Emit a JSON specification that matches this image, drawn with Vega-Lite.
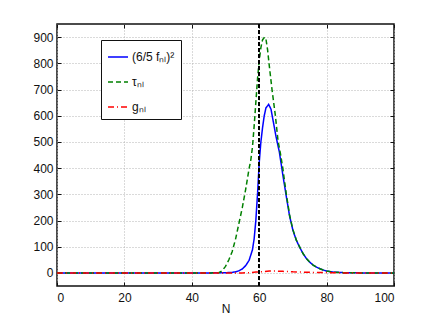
{
  "$schema": "https://vega.github.io/schema/vega-lite/v6.json",
  "width": 337,
  "height": 262,
  "autosize": {"type": "none"},
  "padding": {"left": 57, "top": 24, "right": 42, "bottom": 36},
  "background": "white",
  "config": {
    "view": {"stroke": "#111", "strokeWidth": 1.5},
    "font": "Liberation Sans",
    "axis": {
      "domain": false,
      "tickSize": -4,
      "tickColor": "#111",
      "labelFont": "Liberation Sans",
      "labelFontSize": 12,
      "labelColor": "#111",
      "titleFont": "Liberation Sans",
      "titleFontSize": 12,
      "titleFontWeight": "normal",
      "titleColor": "#111",
      "gridColor": "#b4b4b4",
      "gridDash": [1, 2],
      "gridWidth": 1
    }
  },
  "data": {
    "values": [
      {"N": 0, "s": "f", "v": 0}, {"N": 45, "s": "f", "v": 0}, {"N": 50, "s": "f", "v": 0.5}, {"N": 52, "s": "f", "v": 2}, {"N": 53, "s": "f", "v": 4}, {"N": 54, "s": "f", "v": 8}, {"N": 55, "s": "f", "v": 15}, {"N": 56, "s": "f", "v": 28}, {"N": 57, "s": "f", "v": 48}, {"N": 58, "s": "f", "v": 88}, {"N": 58.5, "s": "f", "v": 130}, {"N": 59, "s": "f", "v": 200}, {"N": 59.5, "s": "f", "v": 300}, {"N": 60, "s": "f", "v": 420}, {"N": 60.5, "s": "f", "v": 500}, {"N": 61, "s": "f", "v": 555}, {"N": 61.5, "s": "f", "v": 600}, {"N": 62, "s": "f", "v": 630}, {"N": 62.8, "s": "f", "v": 643}, {"N": 63.5, "s": "f", "v": 625}, {"N": 64, "s": "f", "v": 590}, {"N": 65, "s": "f", "v": 520}, {"N": 66, "s": "f", "v": 460}, {"N": 67, "s": "f", "v": 375}, {"N": 68, "s": "f", "v": 295}, {"N": 69, "s": "f", "v": 218}, {"N": 70, "s": "f", "v": 163}, {"N": 71, "s": "f", "v": 125}, {"N": 72, "s": "f", "v": 98}, {"N": 73, "s": "f", "v": 74}, {"N": 74, "s": "f", "v": 55}, {"N": 75, "s": "f", "v": 41}, {"N": 76, "s": "f", "v": 30}, {"N": 77, "s": "f", "v": 22}, {"N": 78, "s": "f", "v": 16}, {"N": 79, "s": "f", "v": 11}, {"N": 80, "s": "f", "v": 7}, {"N": 82, "s": "f", "v": 3}, {"N": 85, "s": "f", "v": 1}, {"N": 90, "s": "f", "v": 0}, {"N": 100, "s": "f", "v": 0},
      {"N": 0, "s": "tau", "v": 0}, {"N": 46, "s": "tau", "v": 0}, {"N": 48, "s": "tau", "v": 1}, {"N": 49, "s": "tau", "v": 8}, {"N": 50, "s": "tau", "v": 25}, {"N": 51, "s": "tau", "v": 50}, {"N": 52, "s": "tau", "v": 82}, {"N": 53, "s": "tau", "v": 130}, {"N": 54, "s": "tau", "v": 190}, {"N": 55, "s": "tau", "v": 250}, {"N": 56, "s": "tau", "v": 320}, {"N": 57, "s": "tau", "v": 398}, {"N": 57.5, "s": "tau", "v": 430}, {"N": 58, "s": "tau", "v": 480}, {"N": 58.5, "s": "tau", "v": 560}, {"N": 59, "s": "tau", "v": 650}, {"N": 59.5, "s": "tau", "v": 740}, {"N": 60, "s": "tau", "v": 810}, {"N": 60.5, "s": "tau", "v": 860}, {"N": 61, "s": "tau", "v": 890}, {"N": 61.6, "s": "tau", "v": 900}, {"N": 62, "s": "tau", "v": 893}, {"N": 62.5, "s": "tau", "v": 850}, {"N": 63, "s": "tau", "v": 790}, {"N": 63.8, "s": "tau", "v": 700}, {"N": 64.8, "s": "tau", "v": 600}, {"N": 65.6, "s": "tau", "v": 503}, {"N": 66.3, "s": "tau", "v": 455}, {"N": 67, "s": "tau", "v": 400}, {"N": 68, "s": "tau", "v": 305}, {"N": 69, "s": "tau", "v": 222}, {"N": 70, "s": "tau", "v": 165}, {"N": 71, "s": "tau", "v": 126}, {"N": 72, "s": "tau", "v": 99}, {"N": 73, "s": "tau", "v": 74}, {"N": 74, "s": "tau", "v": 55}, {"N": 75, "s": "tau", "v": 41}, {"N": 76, "s": "tau", "v": 30}, {"N": 77, "s": "tau", "v": 22}, {"N": 78, "s": "tau", "v": 16}, {"N": 79, "s": "tau", "v": 11}, {"N": 80, "s": "tau", "v": 7}, {"N": 82, "s": "tau", "v": 3}, {"N": 85, "s": "tau", "v": 1}, {"N": 90, "s": "tau", "v": 0}, {"N": 100, "s": "tau", "v": 0},
      {"N": 0, "s": "g", "v": 0}, {"N": 55, "s": "g", "v": 0}, {"N": 57, "s": "g", "v": 1}, {"N": 59, "s": "g", "v": 3}, {"N": 61, "s": "g", "v": 5}, {"N": 63, "s": "g", "v": 7}, {"N": 65, "s": "g", "v": 7}, {"N": 67, "s": "g", "v": 6}, {"N": 70, "s": "g", "v": 4}, {"N": 73, "s": "g", "v": 3}, {"N": 76, "s": "g", "v": 2}, {"N": 80, "s": "g", "v": 1}, {"N": 85, "s": "g", "v": 0}, {"N": 100, "s": "g", "v": 0}
    ]
  },
  "layer": [
    {
      "mark": {"type": "line", "strokeWidth": 1.5, "clip": true},
      "encoding": {
        "x": {"field": "N", "type": "quantitative", "scale": {"domain": [0, 100], "nice": false, "zero": false},
              "axis": {"orient": "bottom", "values": [0, 20, 40, 60, 80, 100], "title": "N", "grid": true, "labelPadding": 10, "titlePadding": 0}},
        "y": {"field": "v", "type": "quantitative", "scale": {"domain": [-50, 950], "nice": false, "zero": false},
              "axis": {"orient": "left", "values": [0, 100, 200, 300, 400, 500, 600, 700, 800, 900], "title": null, "grid": true, "labelPadding": 8}},
        "color": {"field": "s", "type": "nominal",
                  "scale": {"domain": ["f", "tau", "g"], "range": ["#0000ff", "#008000", "#ff0000"]},
                  "legend": {"title": null, "orient": "none", "legendX": 44, "legendY": 16, "strokeColor": "#111", "fillColor": "white", "padding": 6,
                             "symbolType": "stroke", "symbolSize": 400, "symbolStrokeWidth": 1.5, "rowPadding": 8, "labelOffset": 3,
                             "labelFont": "Liberation Sans", "labelFontSize": 12, "labelColor": "#111",
                             "labelExpr": "datum.label == 'f' ? '(6/5 f\u2099\u2097)\u00b2' : datum.label == 'tau' ? '\u03c4\u2099\u2097' : 'g\u2099\u2097'"}},
        "strokeDash": {"field": "s", "type": "nominal",
                       "scale": {"domain": ["f", "tau", "g"], "range": [[1, 0], [5, 3], [6, 3, 1, 3]]},
                       "legend": {"title": null, "orient": "none", "legendX": 44, "legendY": 16, "strokeColor": "#111", "fillColor": "white", "padding": 6,
                             "symbolType": "stroke", "symbolSize": 400, "symbolStrokeWidth": 1.5, "rowPadding": 8, "labelOffset": 3,
                             "labelFont": "Liberation Sans", "labelFontSize": 12, "labelColor": "#111",
                             "labelExpr": "datum.label == 'f' ? '(6/5 f\u2099\u2097)\u00b2' : datum.label == 'tau' ? '\u03c4\u2099\u2097' : 'g\u2099\u2097'"}}
      }
    },
    {
      "mark": {"type": "rule", "color": "#000", "strokeWidth": 1.2, "strokeDash": [4, 2]},
      "encoding": {"x": {"datum": 60, "type": "quantitative", "axis": {"orient": "top", "labels": false, "title": null, "grid": false, "values": [0, 20, 40, 60, 80, 100]}}}
    },
    {
      "mark": {"type": "point", "opacity": 0},
      "encoding": {
        "x": {"field": "N", "type": "quantitative", "axis": null},
        "y": {"field": "v", "type": "quantitative", "axis": {"orient": "right", "labels": false, "title": null, "grid": false, "values": [0, 100, 200, 300, 400, 500, 600, 700, 800, 900]}}
      }
    }
  ],
  "resolve": {"axis": {"x": "independent", "y": "independent"}}
}
